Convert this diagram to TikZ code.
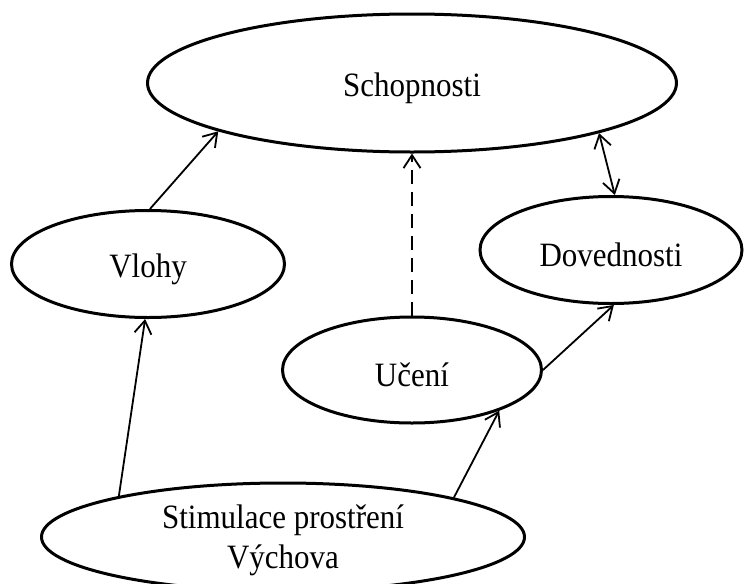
\documentclass[tikz,border=0pt]{standalone}
\usepackage{fontspec}
\usepackage{graphicx}
\setmainfont{Liberation Serif}
\usetikzlibrary{arrows.meta,shapes.geometric}
\newcommand\lbl[2][5pt]{\raisebox{-#1}[\height][\depth]{\scalebox{1}[1.1]{#2}}}
\tikzset{
  oval/.style={ellipse, draw, line width=3pt, inner sep=0pt, font=\fontsize{31}{40}\selectfont, align=center},
  tip/.style={Straight Barb[length=13pt,width=17pt,line width=1.8pt]},
  conn/.style={line width=1.8pt, -{Straight Barb[length=13pt,width=17pt,line width=1.8pt]}},
  biconn/.style={line width=1.8pt, {Straight Barb[length=13pt,width=17pt,line width=1.8pt]}-{Straight Barb[length=13pt,width=17pt,line width=1.8pt]}},
  dashconn/.style={conn, dash pattern=on 14pt off 8pt}
}
\begin{document}
\begin{tikzpicture}[x=1pt,y=-1pt]
\useasboundingbox (0,0) rectangle (745,584);
\node[oval, minimum width=529pt, minimum height=138pt] (schop) at (412,83) {\lbl{Schopnosti}};
\node[oval, minimum width=273pt, minimum height=107pt] (vlohy) at (148,264) {\lbl{Vlohy}};
\node[oval, minimum width=262pt, minimum height=107pt] (dov) at (611,250) {\lbl{Dovednosti}};
\node[oval, minimum width=259pt, minimum height=106pt] (uceni) at (412,370) {\lbl{Učení}};
\node[oval, minimum width=483pt, minimum height=108pt] (stim) at (283,537) {\lbl[3pt]{Stimulace prostření}\\\lbl[3pt]{Výchova}};
\draw[conn] (vlohy.88) -- (schop.194.5);
\draw[dashconn] (uceni.north) -- (schop.south);
\draw[biconn] (schop.345) -- (dov.86);
\draw[conn] (uceni.east) -- (dov.273);
\draw[conn] (stim.166.8) -- (vlohy.267);
\draw[conn] (stim.13.6) -- (uceni.335);
\end{tikzpicture}
\end{document}
